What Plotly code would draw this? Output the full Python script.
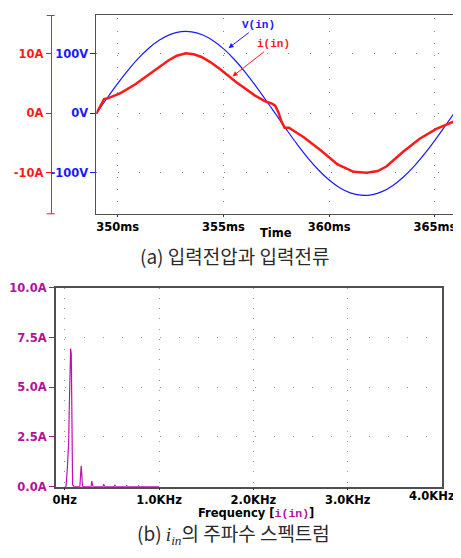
import plotly.graph_objects as go

# the page body has an 8px margin, so the figure is drawn 8px in and 8px down
OFF = 8
W, H = 461 - OFF, 558 - OFF

# ---------------- data: (a) input voltage and current ----------------
time_ms = [349.0, 349.5, 350.0, 350.5, 351.0, 351.5, 352.0, 352.5, 353.0, 353.5,
           354.0, 354.5, 355.0, 355.5, 356.0, 356.5, 357.0, 357.5, 358.0, 358.5,
           359.0, 359.5, 360.0, 360.5, 361.0, 361.5, 362.0, 362.5, 363.0, 363.5,
           364.0, 364.5, 365.0, 365.5, 366.0]
v_in = [0.0, 25.5, 50.1, 73.0, 93.4, 110.6, 123.9, 133.0, 137.5, 137.3,
        132.3, 122.8, 109.0, 91.5, 70.8, 47.7, 23.0, -2.6, -28.0, -52.5,
        -75.2, -95.3, -112.1, -125.0, -133.7, -137.7, -137.0, -131.6, -121.6, -107.4,
        -89.6, -68.6, -45.3, -20.4, 5.1]

time_i_ms = [349.0, 349.36, 349.5, 349.9, 350.14, 350.84, 351.63, 352.4, 352.8, 353.23,
             353.6, 353.97, 354.4, 354.9, 355.6, 356.5, 357.0, 357.3, 357.45, 357.6,
             357.75, 357.9, 358.1, 358.8, 359.6, 360.4, 361.16, 361.78, 362.3, 362.72,
             363.5, 364.28, 365.07, 365.85, 366.0]
i_in = [0.0, 2.4, 2.5, 3.1, 3.4, 4.9, 6.9, 8.9, 9.7, 10.1,
        9.95, 9.5, 8.6, 7.3, 5.3, 3.0, 2.0, 1.65, 1.3, 0.2,
        -1.4, -2.4, -2.4, -4.0, -6.2, -8.6, -9.84, -10.0, -9.7, -8.9,
        -6.45, -4.26, -2.62, -1.43, -1.2]

t_ticks = [350, 355, 360, 365]
t_labels = ["350ms", "355ms", "360ms", "365ms"]
v_ticks = [-100, 0, 100]
v_labels = ["-100V", "0V", "100V"]
i_ticks = [-10, 0, 10]
i_labels = ["-10A", "0A", "10A"]

# ---------------- data: (b) spectrum of i_in ----------------
freq_hz = [0, 14, 28, 42, 49, 56, 63, 70, 77, 84, 98,
           161, 168, 175, 182, 189,
           280, 287, 294, 301,
           406, 413, 420, 427,
           525, 532, 539, 546,
           651, 658, 665, 672,
           777, 784, 791, 798, 1000]
amp_a = [0, 0, 0.9, 2.2, 4.0, 5.2, 6.95, 6.7, 2.15, 0.1, 0,
         0, 0.55, 1.05, 0.6, 0,
         0, 0.28, 0.12, 0,
         0, 0.12, 0.05, 0,
         0, 0.08, 0.03, 0,
         0, 0.05, 0.02, 0,
         0, 0.04, 0.01, 0, 0]

f_ticks = [0, 1000, 2000, 3000, 4000]
f_labels = ["0Hz", "1.0KHz", "2.0KHz", "3.0KHz", "4.0KHz"]
a_ticks = [0, 2.5, 5, 7.5, 10]
a_labels = ["0.0A", "2.5A", "5.0A", "7.5A", "10.0A"]

BLUE = "#1a1aff"
RED = "#ff1a1a"
MAG = "#b4119a"
FRAME = "#505050"
TICKFONT = dict(family="DejaVu Sans", size=11.5, weight="bold")


def px_x(x):
    return (x - OFF) / W


def px_y(y):
    return 1 - (y - OFF) / H


fig = go.Figure()
fig.add_trace(go.Scatter(x=time_ms, y=v_in, mode="lines", line=dict(color=BLUE, width=1.2),
                         xaxis="x", yaxis="y", line_shape="spline"))
fig.add_trace(go.Scatter(x=time_i_ms, y=i_in, mode="lines", line=dict(color=RED, width=2.5),
                         xaxis="x", yaxis="y2"))
fig.add_trace(go.Scatter(x=freq_hz, y=amp_a, mode="lines", line=dict(color="#c010b0", width=1.2),
                         xaxis="x2", yaxis="y3"))

fig.update_layout(
    width=W, height=H,
    margin=dict(l=0, r=0, t=0, b=0),
    paper_bgcolor="white", plot_bgcolor="white",
    showlegend=False,
    xaxis=dict(domain=[px_x(94), px_x(456)], anchor="y", range=[349, 366],
               tickvals=t_ticks, ticktext=t_labels, tickfont=dict(TICKFONT, color="black"),
               ticks="outside", ticklen=2, tickcolor="#333", ticklabeloverflow="allow",
               showline=True, mirror=True, linecolor=FRAME, linewidth=1,
               showgrid=True, gridcolor="#888", gridwidth=1, griddash="0px,3.4px,1px,7.8px",
               zeroline=False),
    yaxis=dict(domain=[px_y(212), px_y(8)], anchor="x", range=[-169, 165.6],
               tickvals=v_ticks, ticktext=v_labels, tickfont=dict(TICKFONT, color=BLUE),
               ticks="outside", ticklen=5, tickcolor=BLUE,
               showline=True, mirror=True, linecolor=FRAME, linewidth=1,
               showgrid=True, gridcolor="#888", gridwidth=1, griddash="1px,20.33px",
               zeroline=False),
    yaxis2=dict(overlaying="y", anchor="free", position=px_x(48), side="left",
                range=[-16.9, 16.56], tickvals=i_ticks, ticktext=i_labels,
                tickfont=dict(TICKFONT, color=RED),
                ticks="outside", ticklen=5, tickcolor=RED,
                showline=True, linecolor=RED, linewidth=1,
                showgrid=False, zeroline=False),
    xaxis2=dict(domain=[px_x(53), px_x(442)], anchor="y3", range=[-95, 4000],
                tickvals=f_ticks[:-1], ticktext=f_labels[:-1],
                tickfont=dict(TICKFONT, color="black"),
                ticks="outside", ticklen=2, tickcolor="#333",
                showline=True, mirror=True, linecolor=FRAME, linewidth=1.5,
                showgrid=True, gridcolor="#999", gridwidth=1, griddash="1px,9.2px",
                zeroline=False),
    yaxis3=dict(domain=[px_y(492), px_y(288)], anchor="x2", range=[0, 10],
                tickvals=a_ticks, ticktext=a_labels, tickfont=dict(TICKFONT, color=MAG),
                ticks="outside", ticklen=5, tickcolor=MAG,
                showline=True, mirror=True, linecolor=FRAME, linewidth=1.5,
                showgrid=True, gridcolor="#999", gridwidth=1, griddash="0px,9px,1px,9px",
                zeroline=False),
)

# caps at ends of the red current axis
for yy in (8.5, 212):
    fig.add_shape(type="line", xref="paper", yref="paper",
                  x0=px_x(44), x1=px_x(52), y0=px_y(yy), y1=px_y(yy),
                  line=dict(color=RED, width=1))


def label(x, y, text, font):
    return dict(xref="paper", yref="paper", x=px_x(x), y=px_y(y), text=text,
                xanchor="center", yanchor="middle", showarrow=False, font=font)


def arrow_label(x, y, ax, ay, text, color):
    return dict(xref="paper", yref="paper", x=px_x(x), y=px_y(y), text=text,
                showarrow=True, ax=ax, ay=ay, arrowcolor=color, arrowhead=2,
                arrowsize=1, arrowwidth=1, standoff=0,
                font=dict(family="Liberation Mono", size=11, color=color))


ann = [
    arrow_label(227, 42, 30, -23, "<b>V(in)</b>", BLUE),
    arrow_label(231, 71, 41, -32, "<b>i(in)</b>", RED),
    label(275, 232, "<b>Time</b>", dict(family="DejaVu Sans", size=11.5, color="black")),
    label(255, 519,
          "<b>Frequency [</b><span style=\"font-family:Liberation Mono;color:" + MAG +
          "\"><b>i(in)</b></span><b>]</b>",
          dict(family="DejaVu Sans", size=11.5, color="black")),
    label(233, 255, "(a) 입력전압과 입력전류",
          dict(family="Noto Sans CJK KR", size=19, color="#2a2a2a")),
    label(232, 540,
          "(b) <span style=\"font-family:Liberation Serif;font-style:italic\">i<sub>in</sub></span>"
          "의 주파수 스펙트럼",
          dict(family="Noto Sans CJK KR", size=19, color="#2a2a2a")),
    # last frequency tick label, pulled left so it stays inside the page like the reference
    dict(xref="x2", yref="paper", x=f_ticks[-1], y=px_y(502), text=f_labels[-1],
         xanchor="right", yanchor="middle", xshift=15, showarrow=False,
         font=dict(TICKFONT, color="black")),
]
fig.update_layout(annotations=ann)

fig.write_html("out.html")
